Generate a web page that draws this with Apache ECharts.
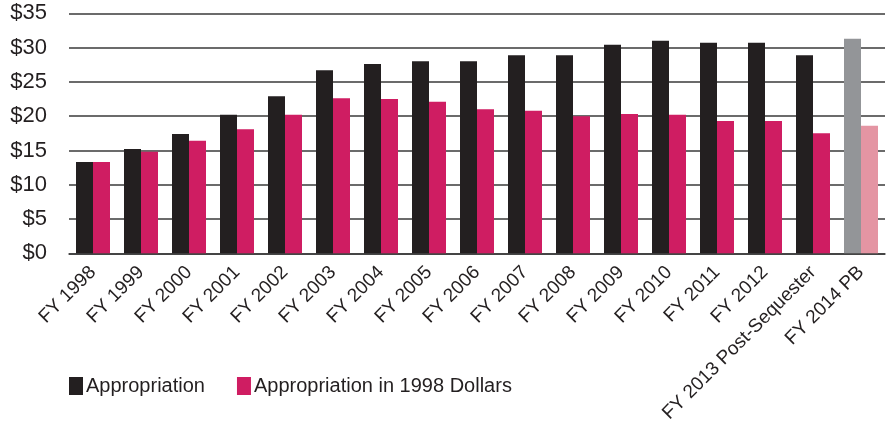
<!DOCTYPE html>
<html>
<head>
<meta charset="utf-8">
<script src="https://cdn.jsdelivr.net/npm/echarts@6/dist/echarts.min.js"></script>
<style>
  html, body { margin: 0; padding: 0; background: #fff; }
  #main { width: 889px; height: 426px; }
</style>
</head>
<body>
<div id="main"></div>
<script>
// fiscal years on the x axis
var years = ['FY 1998', 'FY 1999', 'FY 2000', 'FY 2001', 'FY 2002', 'FY 2003', 'FY 2004',
  'FY 2005', 'FY 2006', 'FY 2007', 'FY 2008', 'FY 2009', 'FY 2010', 'FY 2011', 'FY 2012',
  'FY 2013 Post-Sequester', 'FY 2014 PB'];
// appropriation, nominal dollars (billions)
var appropriation = [13.3, 15.2, 17.4, 20.2, 22.9, 26.7, 27.6, 28.0, 28.0, 28.9, 28.9,
  30.4, 31.0, 30.7, 30.7, 28.9, 31.3];
// appropriation in 1998 dollars
var appropriation1998 = [13.3, 14.8, 16.4, 18.1, 20.2, 22.6, 22.5, 22.1, 21.0, 20.8, 20.0,
  20.3, 20.2, 19.3, 19.3, 17.5, 18.6];
var yTicks = [0, 5, 10, 15, 20, 25, 30, 35];

var dark = '#231f20';
var pink = '#cf1d62';

(function () {
  var chart = echarts.init(document.getElementById('main'));
  var last = years.length - 1;

  // the budget request year is drawn in lighter shades
  function withLastColor(arr, color) {
    return arr.map(function (v, i) {
      return i === last ? { value: v, itemStyle: { color: color } } : v;
    });
  }

  var option = {
    animation: false,
    textStyle: { fontFamily: 'Liberation Sans, Arial, sans-serif', color: dark },
    grid: { left: 69, right: 4, top: 13.3, bottom: 172.7, containLabel: false },
    legend: {
      left: 64,
      top: 371,
      itemWidth: 14,
      itemHeight: 18,
      itemGap: 32,
      icon: 'rect',
      textStyle: { fontSize: 20, color: dark, padding: [0, 0, 0, -2] },
      data: ['Appropriation', 'Appropriation in 1998 Dollars']
    },
    xAxis: {
      type: 'category',
      data: years,
      axisLine: { show: true, lineStyle: { color: '#3a3a3a', width: 1.5 } },
      axisTick: { show: false },
      axisLabel: { rotate: 45, fontSize: 19, color: dark, margin: 16, interval: 0 }
    },
    yAxis: {
      type: 'value',
      min: yTicks[0],
      max: yTicks[yTicks.length - 1],
      interval: 5,
      axisLine: { show: false },
      axisTick: { show: false },
      splitLine: { lineStyle: { color: '#3a3a3a', width: 1.5 } },
      axisLabel: {
        fontSize: 22,
        color: dark,
        margin: 22,
        formatter: function (v) { return '$' + v; }
      }
    },
    series: [
      {
        name: 'Appropriation',
        type: 'bar',
        barWidth: 17,
        barGap: '0%',
        itemStyle: { color: dark },
        data: withLastColor(appropriation, '#939598')
      },
      {
        name: 'Appropriation in 1998 Dollars',
        type: 'bar',
        barWidth: 17,
        barGap: '0%',
        itemStyle: { color: pink },
        data: withLastColor(appropriation1998, '#e495a3')
      }
    ]
  };
  chart.setOption(option);
})();
</script>
</body>
</html>
